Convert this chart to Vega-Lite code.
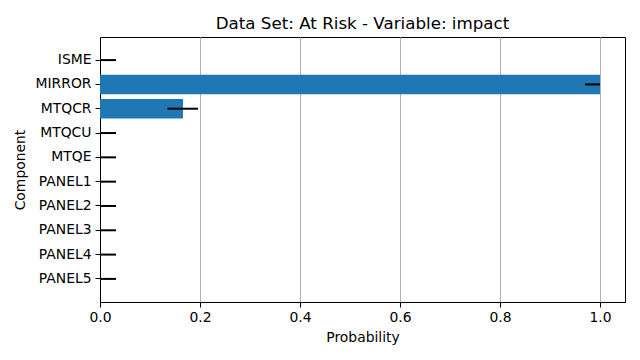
{
  "$schema": "https://vega.github.io/schema/vega-lite/v6.json",
  "autosize": "none",
  "padding": {"left": 100, "top": 37, "right": 15, "bottom": 58},
  "width": 525,
  "height": 265,
  "background": "white",
  "config": {
    "font": "DejaVu Sans",
    "view": {"stroke": "black", "strokeWidth": 1},
    "axis": {
      "labelFont": "DejaVu Sans",
      "titleFont": "DejaVu Sans",
      "labelFontSize": 13.9,
      "titleFontSize": 13.9,
      "labelColor": "black",
      "titleColor": "black",
      "titleFontWeight": "normal",
      "domainColor": "black",
      "tickColor": "black",
      "tickSize": 5,
      "tickWidth": 1,
      "labelPadding": 3,
      "labelFlush": false
    }
  },
  "title": {
    "text": "Data Set: At Risk - Variable: impact",
    "font": "DejaVu Sans",
    "fontSize": 16.7,
    "fontWeight": "normal",
    "color": "black",
    "anchor": "middle",
    "offset": 4
  },
  "data": {
    "values": [
      {"component": "ISME", "prob": 0.0, "lo": -0.032, "hi": 0.032},
      {"component": "MIRROR", "prob": 1.0, "lo": 0.97, "hi": 1.0},
      {"component": "MTQCR", "prob": 0.166, "lo": 0.135, "hi": 0.196},
      {"component": "MTQCU", "prob": 0.0, "lo": -0.032, "hi": 0.032},
      {"component": "MTQE", "prob": 0.0, "lo": -0.032, "hi": 0.032},
      {"component": "PANEL1", "prob": 0.0, "lo": -0.032, "hi": 0.032},
      {"component": "PANEL2", "prob": 0.0, "lo": -0.032, "hi": 0.032},
      {"component": "PANEL3", "prob": 0.0, "lo": -0.032, "hi": 0.032},
      {"component": "PANEL4", "prob": 0.0, "lo": -0.032, "hi": 0.032},
      {"component": "PANEL5", "prob": 0.0, "lo": -0.032, "hi": 0.032}
    ]
  },
  "encoding": {
    "y": {
      "field": "component",
      "type": "nominal",
      "sort": null,
      "scale": {"paddingInner": 0.2, "paddingOuter": 0.55},
      "axis": {"title": "Component", "titlePadding": 8, "grid": false, "labelPadding": 4}
    }
  },
  "layer": [
    {
      "mark": {"type": "bar", "color": "#1f77b4"},
      "encoding": {
        "x": {
          "field": "prob",
          "type": "quantitative",
          "scale": {"domain": [0, 1.05], "nice": false, "zero": true},
          "axis": {
            "title": "Probability",
            "values": [0, 0.2, 0.4, 0.6, 0.8, 1.0],
            "format": ".1f",
            "grid": true,
            "gridColor": "#b0b0b0",
            "gridWidth": 1,
            "titlePadding": 7
          }
        }
      }
    },
    {
      "mark": {"type": "rule", "color": "black", "strokeWidth": 2, "clip": true},
      "encoding": {
        "x": {"field": "lo", "type": "quantitative"},
        "x2": {"field": "hi"}
      }
    }
  ]
}
